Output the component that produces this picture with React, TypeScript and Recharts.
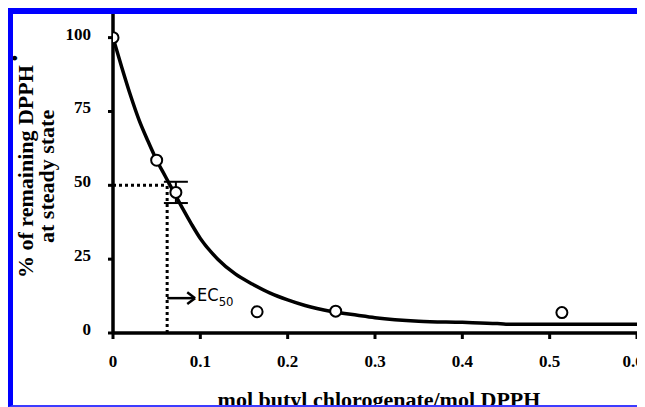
import React from 'react';
import {
  ComposedChart, Line, Scatter, XAxis, YAxis, ErrorBar,
  ReferenceLine, ReferenceDot,
} from 'recharts';

// fitted decay curve
const curveX = [0, 0.01, 0.02, 0.03, 0.04, 0.05, 0.06, 0.07, 0.08, 0.09, 0.1, 0.12, 0.14, 0.16, 0.18, 0.2, 0.22, 0.25, 0.28, 0.3, 0.35, 0.4, 0.44, 0.45, 0.5, 0.55, 0.6];
const curveY = [100, 90, 80.5, 72, 65, 58.5, 53, 47.5, 42, 36.8, 32, 25, 20, 16.5, 13.5, 11.2, 9.3, 7.3, 6, 5.2, 4, 3.6, 3.2, 3, 3, 3, 3];

// measured points
const pointX = [0, 0.05, 0.072, 0.165, 0.255, 0.514];
const pointY = [100, 58.5, 47.6, 7.2, 7.4, 6.9];
const pointErr = [null, null, 3.6, null, null, null];

const xTicks = [0, 0.1, 0.2, 0.3, 0.4, 0.5, 0.6];
const yTicks = [0, 25, 50, 75, 100];

const EC50 = 0.062;
const HALF = 50;
const ARROW_Y = 11.8;
const ARROW_TIP = 0.094;

const curveData = curveX.map((x, i) => ({ x, y: curveY[i] }));
const pointData = pointX.map((x, i) => ({ x, y: pointY[i], err: pointErr[i] }));

const SERIF = "'Liberation Serif', 'Times New Roman', serif";

const XTick = (p: any) => (
  <text x={p.x} y={p.y} dy={28} textAnchor="middle" fontFamily={SERIF} fontWeight="bold" fontSize={17} fill="#000">
    {p.payload.value}
  </text>
);

const YTick = (p: any) => (
  <text x={p.x} y={p.y} dy={2} textAnchor="end" fontFamily={SERIF} fontWeight="bold" fontSize={17} fill="#000">
    {p.payload.value}
  </text>
);

const EcLabel = (p: any) => {
  const { x, y } = p.viewBox;
  return (
    <text x={x + 3} y={y + 4} fontFamily="'DejaVu Sans Condensed', 'DejaVu Sans', sans-serif" fontSize={18} fill="#000">
      EC<tspan fontSize={13} dy={5}>50</tspan>
    </text>
  );
};

const OpenDot = (p: any) => (
  <circle cx={p.cx} cy={p.cy} r={5.5} fill="#fff" stroke="#000" strokeWidth={2} />
);

export default function App() {
  return (
    <div
      style={{
        position: 'relative', width: 637, height: 399, boxSizing: 'border-box',
        borderTop: '6px solid #0000ff', borderLeft: '5px solid #0000ff',
        borderRight: '2px solid #8c8cff', borderBottom: '2px solid #3c3cff',
        overflow: 'hidden', background: '#fff',
      }}
    >
      <ComposedChart width={630} height={391} margin={{ top: 0, right: 6, left: 0, bottom: 0 }}>
        <XAxis
          dataKey="x" type="number" domain={[0, 0.6]} ticks={xTicks} height={72}
          axisLine={{ stroke: '#000', strokeWidth: 3.5 }} tickLine={{ stroke: '#000', strokeWidth: 3 }}
          tickSize={6} tickMargin={0} tick={XTick} allowDataOverflow
        />
        <YAxis
          dataKey="y" type="number" domain={[0, 108]} ticks={yTicks} width={100}
          axisLine={{ stroke: '#000', strokeWidth: 3.5 }} tickLine={{ stroke: '#000', strokeWidth: 3 }}
          tickSize={5} tickMargin={17} tick={YTick} allowDataOverflow
        />
        <Line data={curveData} dataKey="y" type="monotone" stroke="#000" strokeWidth={3.5} dot={false} isAnimationActive={false} />
        <ReferenceLine segment={[{ x: 0, y: HALF }, { x: EC50, y: HALF }]} stroke="#000" strokeWidth={3} strokeDasharray="3 3" />
        <ReferenceLine segment={[{ x: EC50, y: 0 }, { x: EC50, y: HALF }]} stroke="#000" strokeWidth={3} strokeDasharray="3 3" />
        <ReferenceLine segment={[{ x: EC50, y: ARROW_Y }, { x: ARROW_TIP, y: ARROW_Y }]} stroke="#000" strokeWidth={2.5} />
        <ReferenceLine segment={[{ x: ARROW_TIP - 0.009, y: ARROW_Y + 2 }, { x: ARROW_TIP, y: ARROW_Y }]} stroke="#000" strokeWidth={2.5} />
        <ReferenceLine segment={[{ x: ARROW_TIP - 0.009, y: ARROW_Y - 2 }, { x: ARROW_TIP, y: ARROW_Y }]} stroke="#000" strokeWidth={2.5} />
        <ReferenceDot x={ARROW_TIP} y={ARROW_Y} r={1} fill="none" stroke="none" label={{ content: EcLabel }} />
        <Scatter data={pointData} dataKey="y" shape={OpenDot} isAnimationActive={false}>
          <ErrorBar dataKey="err" direction="y" width={12} stroke="#000" strokeWidth={2} />
        </Scatter>
      </ComposedChart>
      <svg width={630} height={391} style={{ position: 'absolute', left: 0, top: 0, pointerEvents: 'none' }}>
        <text x={20} y={264} transform="rotate(-90 20 264)" fontFamily={SERIF} fontWeight="bold" fontSize={22} fill="#000">
          % of remaining DPPH<tspan dx={4} dy={-12} fontSize={18}>•</tspan>
        </text>
        <text x={41} y={229} transform="rotate(-90 41 229)" fontFamily={SERIF} fontWeight="bold" fontSize={22} fill="#000">
          at steady state
        </text>
        <text x={366} y={393} textAnchor="middle" fontFamily={SERIF} fontWeight="bold" fontSize={22} fill="#000">
          mol butyl chlorogenate/mol DPPH
        </text>
      </svg>
    </div>
  );
}
